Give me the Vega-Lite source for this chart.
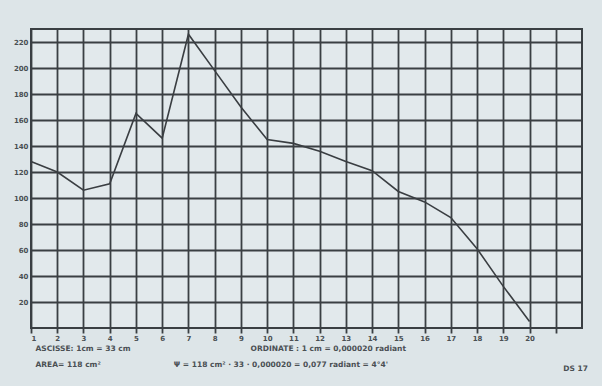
{
  "$schema": "https://vega.github.io/schema/vega-lite/v6.json",
  "width": 551,
  "height": 299,
  "autosize": "none",
  "padding": {"left": 31, "top": 29, "right": 20, "bottom": 58},
  "background": "#dde5e8",
  "config": {
    "view": {"stroke": "#3a3f43", "strokeWidth": 2, "fill": "#e2e9ec"},
    "font": "DejaVu Sans"
  },
  "title": {
    "text": "DS 17",
    "orient": "bottom",
    "anchor": "end",
    "font": "DejaVu Sans",
    "fontSize": 7.5,
    "fontWeight": "bold",
    "color": "#4a4f53",
    "offset": -3,
    "dx": 6
  },
  "data": {
    "values": [
      {"x": 1, "y": 128},
      {"x": 2, "y": 120},
      {"x": 3, "y": 106},
      {"x": 4, "y": 111},
      {"x": 5, "y": 165},
      {"x": 6, "y": 146},
      {"x": 7, "y": 226},
      {"x": 8, "y": 198},
      {"x": 9, "y": 170},
      {"x": 10, "y": 145},
      {"x": 11, "y": 142},
      {"x": 12, "y": 136},
      {"x": 13, "y": 128},
      {"x": 14, "y": 121},
      {"x": 15, "y": 105},
      {"x": 16, "y": 97},
      {"x": 17, "y": 85},
      {"x": 18, "y": 61},
      {"x": 19, "y": 32},
      {"x": 20, "y": 5}
    ]
  },
  "mark": {"type": "line", "color": "#3a3e42", "strokeWidth": 1.6},
  "encoding": {
    "x": {
      "field": "x",
      "type": "quantitative",
      "scale": {"domain": [1, 22], "nice": false, "zero": false},
      "axis": {
        "values": [1,2,3,4,5,6,7,8,9,10,11,12,13,14,15,16,17,18,19,20,21],
        "labelExpr": "datum.value <= 20 ? datum.label : ''",
        "grid": true,
        "gridColor": "#3a3f43",
        "gridWidth": 1.8,
        "gridOpacity": 1,
        "domain": false,
        "ticks": true,
        "tickColor": "#3a3f43",
        "tickSize": 5,
        "tickWidth": 1.8,
        "labelFont": "DejaVu Sans",
        "labelFontSize": 7,
        "labelFontWeight": "bold",
        "labelColor": "#4a4f53",
        "labelPadding": 1,
        "title": ["ASCISSE: 1cm = 33 cm\u00a0\u00a0\u00a0\u00a0\u00a0\u00a0\u00a0\u00a0\u00a0\u00a0\u00a0\u00a0\u00a0\u00a0\u00a0\u00a0\u00a0\u00a0\u00a0\u00a0\u00a0\u00a0\u00a0\u00a0\u00a0\u00a0\u00a0\u00a0\u00a0\u00a0\u00a0\u00a0\u00a0\u00a0\u00a0\u00a0\u00a0\u00a0\u00a0\u00a0\u00a0\u00a0\u00a0\u00a0\u00a0\u00a0ORDINATE : 1 cm = 0,000020 radiant", "AREA= 118 cm²\u00a0\u00a0\u00a0\u00a0\u00a0\u00a0\u00a0\u00a0\u00a0\u00a0\u00a0\u00a0\u00a0\u00a0\u00a0\u00a0\u00a0\u00a0\u00a0\u00a0\u00a0\u00a0\u00a0\u00a0\u00a0\u00a0\u00a0\u00a0Ψ = 118 cm² · 33 · 0,000020 = 0,077 radiant = 4°4'"],
        "titleFont": "DejaVu Sans",
        "titleFontSize": 7.5,
        "titleFontWeight": "bold",
        "titleColor": "#4a4f53",
        "titleAnchor": "start",
        "titleAlign": "left",
        "titleX": 4,
        "titleLineHeight": 16,
        "titlePadding": 3
      }
    },
    "y": {
      "field": "y",
      "type": "quantitative",
      "scale": {"domain": [0, 230], "nice": false},
      "axis": {
        "values": [20,40,60,80,100,120,140,160,180,200,220],
        "grid": true,
        "gridColor": "#3a3f43",
        "gridWidth": 1.8,
        "gridOpacity": 1,
        "domain": false,
        "ticks": false,
        "labelFont": "DejaVu Sans",
        "labelFontSize": 7,
        "labelFontWeight": "bold",
        "labelColor": "#4a4f53",
        "labelPadding": 3,
        "title": null
      }
    }
  }
}
